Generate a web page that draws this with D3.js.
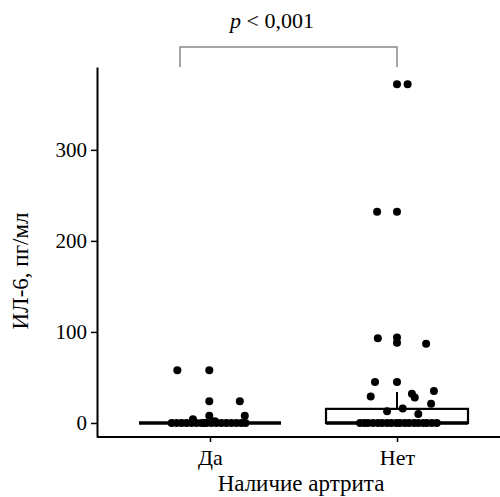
<!DOCTYPE html>
<html>
<head>
<meta charset="utf-8">
<script src="https://cdn.jsdelivr.net/npm/d3@7"></script>
<style>
  body { margin: 0; background: #fff; }
</style>
</head>
<body>
<div id="chart"></div>
<script>
// groups
const groups = ["Да", "Нет"];
const yTicks = [0, 100, 200, 300];

// box stats
const q1 = [0, 0];
const median = [0, 0];
const q3 = [0, 15.5];
const whiskerLo = [0, 0];
const whiskerHi = [0, 34];

// points: value and horizontal jitter (fraction of half box width)
const daValues = [58, 58, 24, 24, 8, 8, 4, 2,
  0, 0, 0, 0, 0, 0, 0, 0, 0, 0, 0, 0, 0, 0, 0, 0, 0];
const daJitter = [-0.46, -0.01, -0.01, 0.42, -0.01, 0.49, -0.24, 0.07,
  -0.54, -0.47, -0.4, -0.33, -0.26, -0.19, -0.12, -0.05, 0.02, 0.09, 0.16, 0.23, 0.3, 0.37, 0.44, 0.5, -0.08];

const netValues = [372, 372, 232, 232, 93, 94, 88, 87, 45, 45, 35, 32, 28, 29, 21, 16, 13, 10,
  0, 0, 0, 0, 0, 0, 0, 0, 0, 0, 0, 0, 0, 0, 0, 0, 0, 0];
const netJitter = [0, 0.15, -0.28, 0, -0.27, 0, 0, 0.41, -0.31, 0, 0.52, 0.21, 0.25, -0.37, 0.48, 0.08, -0.14, 0.3,
  -0.52, -0.46, -0.41, -0.34, -0.27, -0.21, -0.14, -0.08, -0.01, 0.04, 0.11, 0.17, 0.24, 0.3, 0.37, 0.42, 0.49, 0.56];

const pText = "< 0,001";
const FONT = "'Liberation Serif', 'Times New Roman', serif";

const svg = d3.select("#chart").append("svg")
  .attr("width", 500)
  .attr("height", 497)
  .style("font-family", FONT);

svg.append("rect").attr("width", 500).attr("height", 497).attr("fill", "#fff");

// =====================
// SCALES
// =====================
const x = d3.scalePoint().domain(groups).range([210, 397]);
const y = d3.scaleLinear().domain([-15.4, 391]).range([437, 67]);
const jit = d3.scaleLinear().domain([-1, 1]).range([-71, 71]);

// =====================
// AXES
// =====================
const yAxis = svg.append("g")
  .attr("transform", "translate(97,0)")
  .call(d3.axisLeft(y).tickValues(yTicks).tickSize(6).tickSizeOuter(0).tickPadding(4));
yAxis.attr("font-family", FONT).attr("font-size", 21);
yAxis.select(".domain").attr("stroke-width", 2);
yAxis.selectAll(".tick line").attr("stroke-width", 1.5);
yAxis.selectAll("text").attr("fill", "#000");

const xAxis = svg.append("g")
  .attr("transform", "translate(0,437)")
  .call(d3.axisBottom(x).tickSize(5).tickSizeOuter(0).tickPadding(7));
xAxis.attr("font-family", FONT).attr("font-size", 22);
xAxis.select(".domain").attr("d", "M97,0H500").attr("stroke-width", 2);
xAxis.selectAll(".tick line").attr("stroke-width", 1.5);
xAxis.selectAll("text").attr("fill", "#000");

// =====================
// BOXES
// =====================
const boxes = svg.append("g");
groups.forEach((g, i) => {
  const cx = x(g);
  boxes.append("line")
    .attr("x1", cx).attr("x2", cx)
    .attr("y1", y(q3[i])).attr("y2", y(whiskerHi[i]))
    .attr("stroke", "#000").attr("stroke-width", 2);
  boxes.append("rect")
    .attr("x", cx + jit(-1)).attr("width", jit(1) - jit(-1))
    .attr("y", y(q3[i])).attr("height", y(q1[i]) - y(q3[i]))
    .attr("fill", "none").attr("stroke", "#000").attr("stroke-width", 2.2);
  boxes.append("line")
    .attr("x1", cx + jit(-1)).attr("x2", cx + jit(1))
    .attr("y1", y(median[i])).attr("y2", y(median[i]))
    .attr("stroke", "#000").attr("stroke-width", 3.5);
});

// =====================
// POINTS
// =====================
const pts = [];
daValues.forEach((v, k) => pts.push({g: "Да", v, j: daJitter[k]}));
netValues.forEach((v, k) => pts.push({g: "Нет", v, j: netJitter[k]}));

svg.append("g").selectAll("circle")
  .data(pts)
  .enter().append("circle")
  .attr("cx", d => x(d.g) + jit(d.j))
  .attr("cy", d => y(d.v))
  .attr("r", 4)
  .attr("fill", "#000");

// =====================
// SIGNIFICANCE BRACKET
// =====================
const bx1 = x("Да") - 30, bx2 = x("Нет");
svg.append("path")
  .attr("d", `M${bx1},67V47H${bx2}V67`)
  .attr("fill", "none")
  .attr("stroke", "#888")
  .attr("stroke-width", 1.5);

const pt = svg.append("text")
  .attr("x", 272).attr("y", 28)
  .attr("text-anchor", "middle")
  .attr("font-size", 22);
pt.append("tspan").attr("font-style", "italic").text("p");
pt.append("tspan").text(" " + pText);

// =====================
// LABELS
// =====================
svg.append("text")
  .attr("x", 301).attr("y", 491)
  .attr("text-anchor", "middle")
  .attr("font-size", 23)
  .text("Наличие артрита");

svg.append("text")
  .attr("transform", "translate(28,271) rotate(-90)")
  .attr("text-anchor", "middle")
  .attr("font-size", 23)
  .text("ИЛ-6, пг/мл");
</script>
</body>
</html>
